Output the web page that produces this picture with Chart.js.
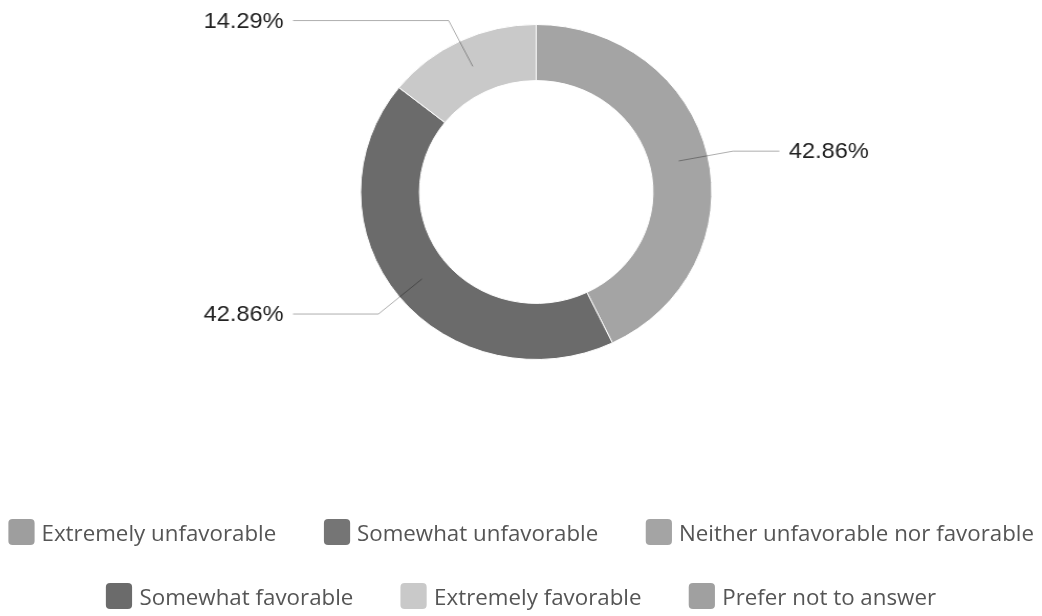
<!DOCTYPE html>
<html>
<head>
<meta charset="utf-8">
<script src="https://cdn.jsdelivr.net/npm/chart.js@4"></script>
<style>
  body { margin: 0; background: #fff; }
  #frame {
    position: relative;
    width: 994px;
    height: 616px;
    transform: scaleX(1.0483);
    transform-origin: 0 0;
  }
  #chartBox { position: absolute; left: 0; top: 0; width: 994px; height: 360px; }
  #legend { position: absolute; left: 0; top: 519px; width: 994px; }
  .row { display: flex; justify-content: center; gap: 45px; height: 26px; margin-bottom: 38px; }
  .item { display: flex; align-items: center; font: 21.3px "Open Sans", sans-serif; color: #555; white-space: nowrap; }
  .swatch { width: 25px; height: 26px; border-radius: 4px; margin-right: 7px; }
</style>
</head>
<body>
<div id="frame">
  <div id="chartBox"><canvas id="donut"></canvas></div>
  <div id="legend"></div>
</div>
<script>
var categories = [
    "Extremely unfavorable",
    "Somewhat unfavorable",
    "Neither unfavorable nor favorable",
    "Somewhat favorable",
    "Extremely favorable",
    "Prefer not to answer"
];
// share of responses, in percent
var shares = [0, 0, 42.86, 42.86, 14.29, 0];
var colors = ["#9e9e9e", "#757575", "#a4a4a4", "#6b6b6b", "#c9c9c9", "#a0a0a0"];

// percent labels outside the ring, with an elbowed leader line
var sliceLabels = {
    id: 'sliceLabels',
    afterDatasetsDraw: function(chart) {
        var ctx = chart.ctx;
        var meta = chart.getDatasetMeta(0);
        ctx.save();
        ctx.font = '22.5px "Liberation Sans", Arial, sans-serif';
        ctx.textBaseline = 'middle';
        meta.data.forEach(function(arc, i) {
            var v = shares[i];
            if (!v) return;
            var p = arc.getProps(['x', 'y', 'startAngle', 'endAngle', 'innerRadius', 'outerRadius'], true);
            var mid = (p.startAngle + p.endAngle) / 2;
            var rMid = (p.innerRadius + p.outerRadius) / 2;
            var rElbow = p.outerRadius + 25;
            var cos = Math.cos(mid), sin = Math.sin(mid);
            var right = cos >= 0;
            var ex = p.x + cos * rElbow, ey = p.y + sin * rElbow + 2;
            var endX = right ? p.x + 232 : p.x - 232;
            ctx.strokeStyle = 'rgba(0,0,0,0.32)';
            ctx.lineWidth = 1;
            ctx.beginPath();
            ctx.moveTo(p.x + cos * rMid, p.y + sin * rMid);
            ctx.lineTo(ex, ey);
            ctx.lineTo(endX, ey);
            ctx.stroke();
            ctx.fillStyle = '#222';
            ctx.textAlign = right ? 'left' : 'right';
            ctx.fillText(v.toFixed(2) + '%', right ? p.x + 241 : p.x - 241, ey + 1);
        });
        ctx.restore();
    }
};

var chart = new Chart(document.getElementById('donut'), {
    type: 'doughnut',
    data: {
        labels: categories,
        datasets: [{
            data: shares,
            backgroundColor: colors,
            borderColor: '#fff',
            borderWidth: 1,
            hoverOffset: 0
        }]
    },
    options: {
        responsive: true,
        maintainAspectRatio: false,
        animation: false,
        cutout: '66.5%',
        layout: { padding: { top: 24, left: 29, right: 0, bottom: 0 } },
        plugins: {
            legend: { display: false },
            tooltip: { enabled: false }
        }
    },
    plugins: [sliceLabels]
});

// legend in two rows of three, built from the chart's own legend items
var items = chart.options.plugins.legend.labels.generateLabels(chart);
var legend = document.getElementById('legend');
[items.slice(0, 3), items.slice(3)].forEach(function(rowItems) {
    var row = document.createElement('div');
    row.className = 'row';
    rowItems.forEach(function(it) {
        var el = document.createElement('div');
        el.className = 'item';
        var sw = document.createElement('span');
        sw.className = 'swatch';
        sw.style.background = it.fillStyle;
        el.appendChild(sw);
        el.appendChild(document.createTextNode(it.text));
        row.appendChild(el);
    });
    legend.appendChild(row);
});
</script>
</body>
</html>
